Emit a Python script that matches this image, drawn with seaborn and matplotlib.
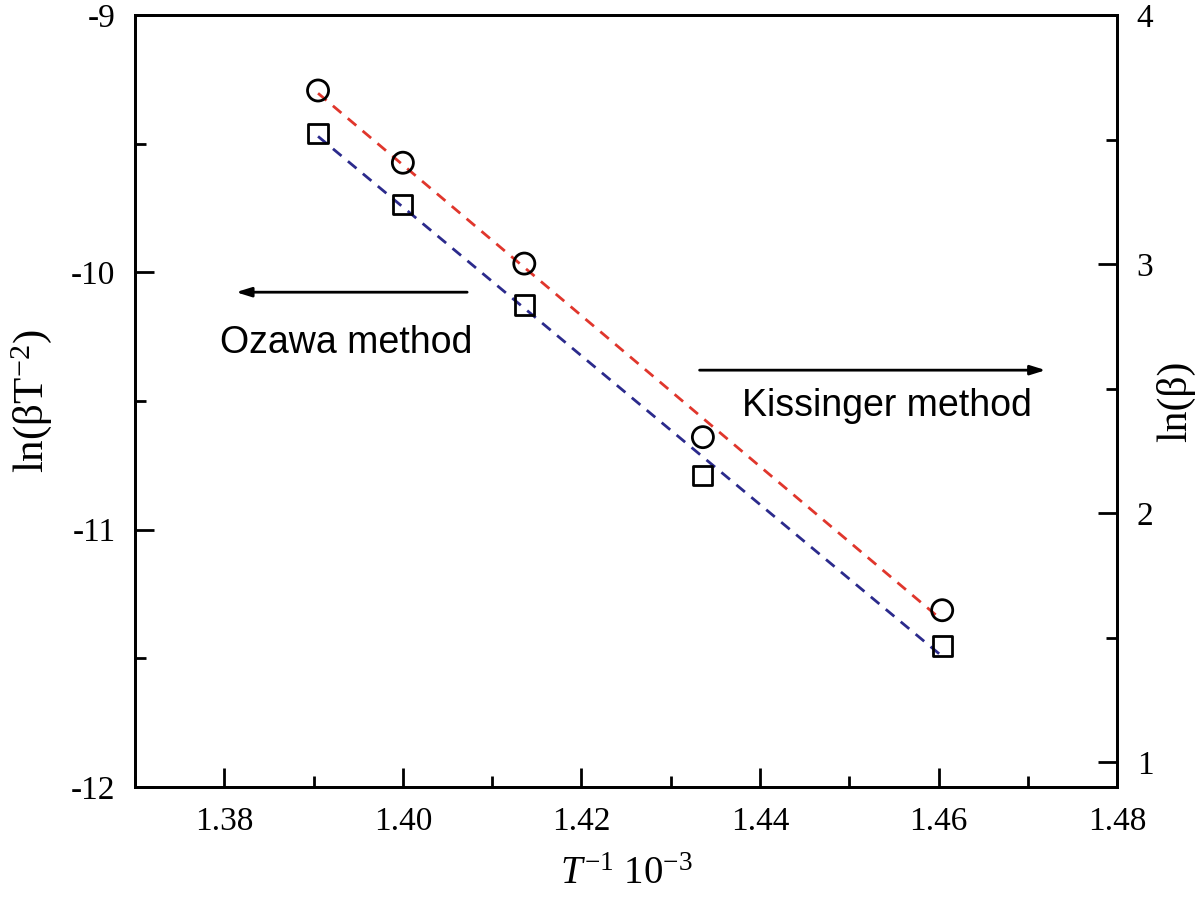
import numpy as np
import pandas as pd
import matplotlib
matplotlib.use("Agg")
import matplotlib.pyplot as plt
import seaborn as sns
from matplotlib.ticker import MultipleLocator

# ---- data ----
inv_T = [1.3905, 1.4000, 1.4136, 1.4336, 1.4604]          # T^-1 (x 10^-3)
ln_beta_T2 = [-9.461, -9.735, -10.127, -10.791, -11.452]   # left axis, squares
ln_beta = [3.697, 3.407, 3.002, 2.305, 1.610]              # right axis, circles

x_ticks = [1.38, 1.40, 1.42, 1.44, 1.46, 1.48]
left_ticks = [-12, -11, -10, -9]
right_ticks = [1, 2, 3, 4]

sns.set_style("ticks")
plt.rcParams["font.family"] = ["Liberation Serif", "DejaVu Serif"]
plt.rcParams["mathtext.fontset"] = "custom"
plt.rcParams["mathtext.rm"] = "Liberation Serif"
plt.rcParams["mathtext.it"] = "Liberation Serif:italic"
plt.rcParams["mathtext.bf"] = "Liberation Serif:bold"
for k in ("text.color", "axes.labelcolor", "xtick.color", "ytick.color", "axes.edgecolor"):
    plt.rcParams[k] = "black"

df = pd.DataFrame({"x": inv_T, "left": ln_beta_T2, "right": ln_beta})

fig = plt.figure(figsize=(12, 9.06), dpi=100)
ax = fig.add_axes([0.1125, 0.1313, 0.8185, 0.8521])
ax2 = ax.twinx()

# left axis: squares + navy dashed fit
sns.regplot(data=df, x="x", y="left", ax=ax, scatter=False, ci=None, truncate=True,
            line_kws=dict(color="#2b2a8c", ls=(0, (4, 3)), lw=2))
sns.scatterplot(data=df, x="x", y="left", ax=ax, marker="s", s=190,
                facecolor="none", edgecolor="black", linewidth=2, zorder=5)
ax.collections[-1].set_facecolor("none")

# right axis: circles + red dashed fit
sns.regplot(data=df, x="x", y="right", ax=ax2, scatter=False, ci=None, truncate=True,
            line_kws=dict(color="#e0362c", ls=(0, (4, 3)), lw=2))
sns.scatterplot(data=df, x="x", y="right", ax=ax2, marker="o", s=230,
                facecolor="none", edgecolor="black", linewidth=2, zorder=5)
ax2.collections[-1].set_facecolor("none")

ax.set_xlim(1.37, 1.48)
ax.set_ylim(-12, -9)
ax2.set_ylim(0.9, 4.0)

ax.set_xticks(x_ticks)
ax.set_xticklabels([f"{v:.2f}" for v in x_ticks])
ax.xaxis.set_minor_locator(MultipleLocator(0.01))
ax.set_yticks(left_ticks)
ax.set_yticklabels([str(v) for v in left_ticks])
ax.yaxis.set_minor_locator(MultipleLocator(0.5))
ax2.set_yticks(right_ticks)
ax2.set_yticklabels([str(v) for v in right_ticks])
ax2.yaxis.set_minor_locator(MultipleLocator(0.5))

for a in (ax, ax2):
    for s in a.spines.values():
        s.set_visible(True)
        s.set_linewidth(2)
        s.set_color("black")
ax.tick_params(axis="both", which="major", direction="in", length=14, width=2,
               labelsize=24, pad=14, top=False, right=False)
ax.tick_params(axis="both", which="minor", direction="in", length=8, width=2,
               top=False, right=False)
ax2.tick_params(axis="y", which="major", direction="in", length=14, width=2,
                labelsize=24, pad=14)
ax2.tick_params(axis="y", which="minor", direction="in", length=8, width=2)

ax.set_xlabel(r"$T^{-1}$ 10$^{-3}$", fontsize=28, labelpad=14)
ax.set_ylabel(r"ln(βT$^{-2}$)", fontsize=31, labelpad=12)
ax2.set_ylabel("ln(β)", fontsize=30, labelpad=2)

# annotations
ax.annotate("", xy=(0.100, 0.641), xytext=(0.341, 0.641), xycoords="axes fraction",
            arrowprops=dict(arrowstyle="-|>,head_length=0.9,head_width=0.28", lw=2, color="black"))
ax.text(0.215, 0.575, "Ozawa method", transform=ax.transAxes, ha="center", va="center",
        fontsize=27, color="black", family=["Liberation Sans", "DejaVu Sans"])
ax.annotate("", xy=(0.930, 0.540), xytext=(0.572, 0.540), xycoords="axes fraction",
            arrowprops=dict(arrowstyle="-|>,head_length=0.9,head_width=0.28", lw=2, color="black"))
ax.text(0.766, 0.493, "Kissinger method", transform=ax.transAxes, ha="center", va="center",
        fontsize=27, color="black", family=["Liberation Sans", "DejaVu Sans"])

fig.savefig("out.png", dpi=100)
